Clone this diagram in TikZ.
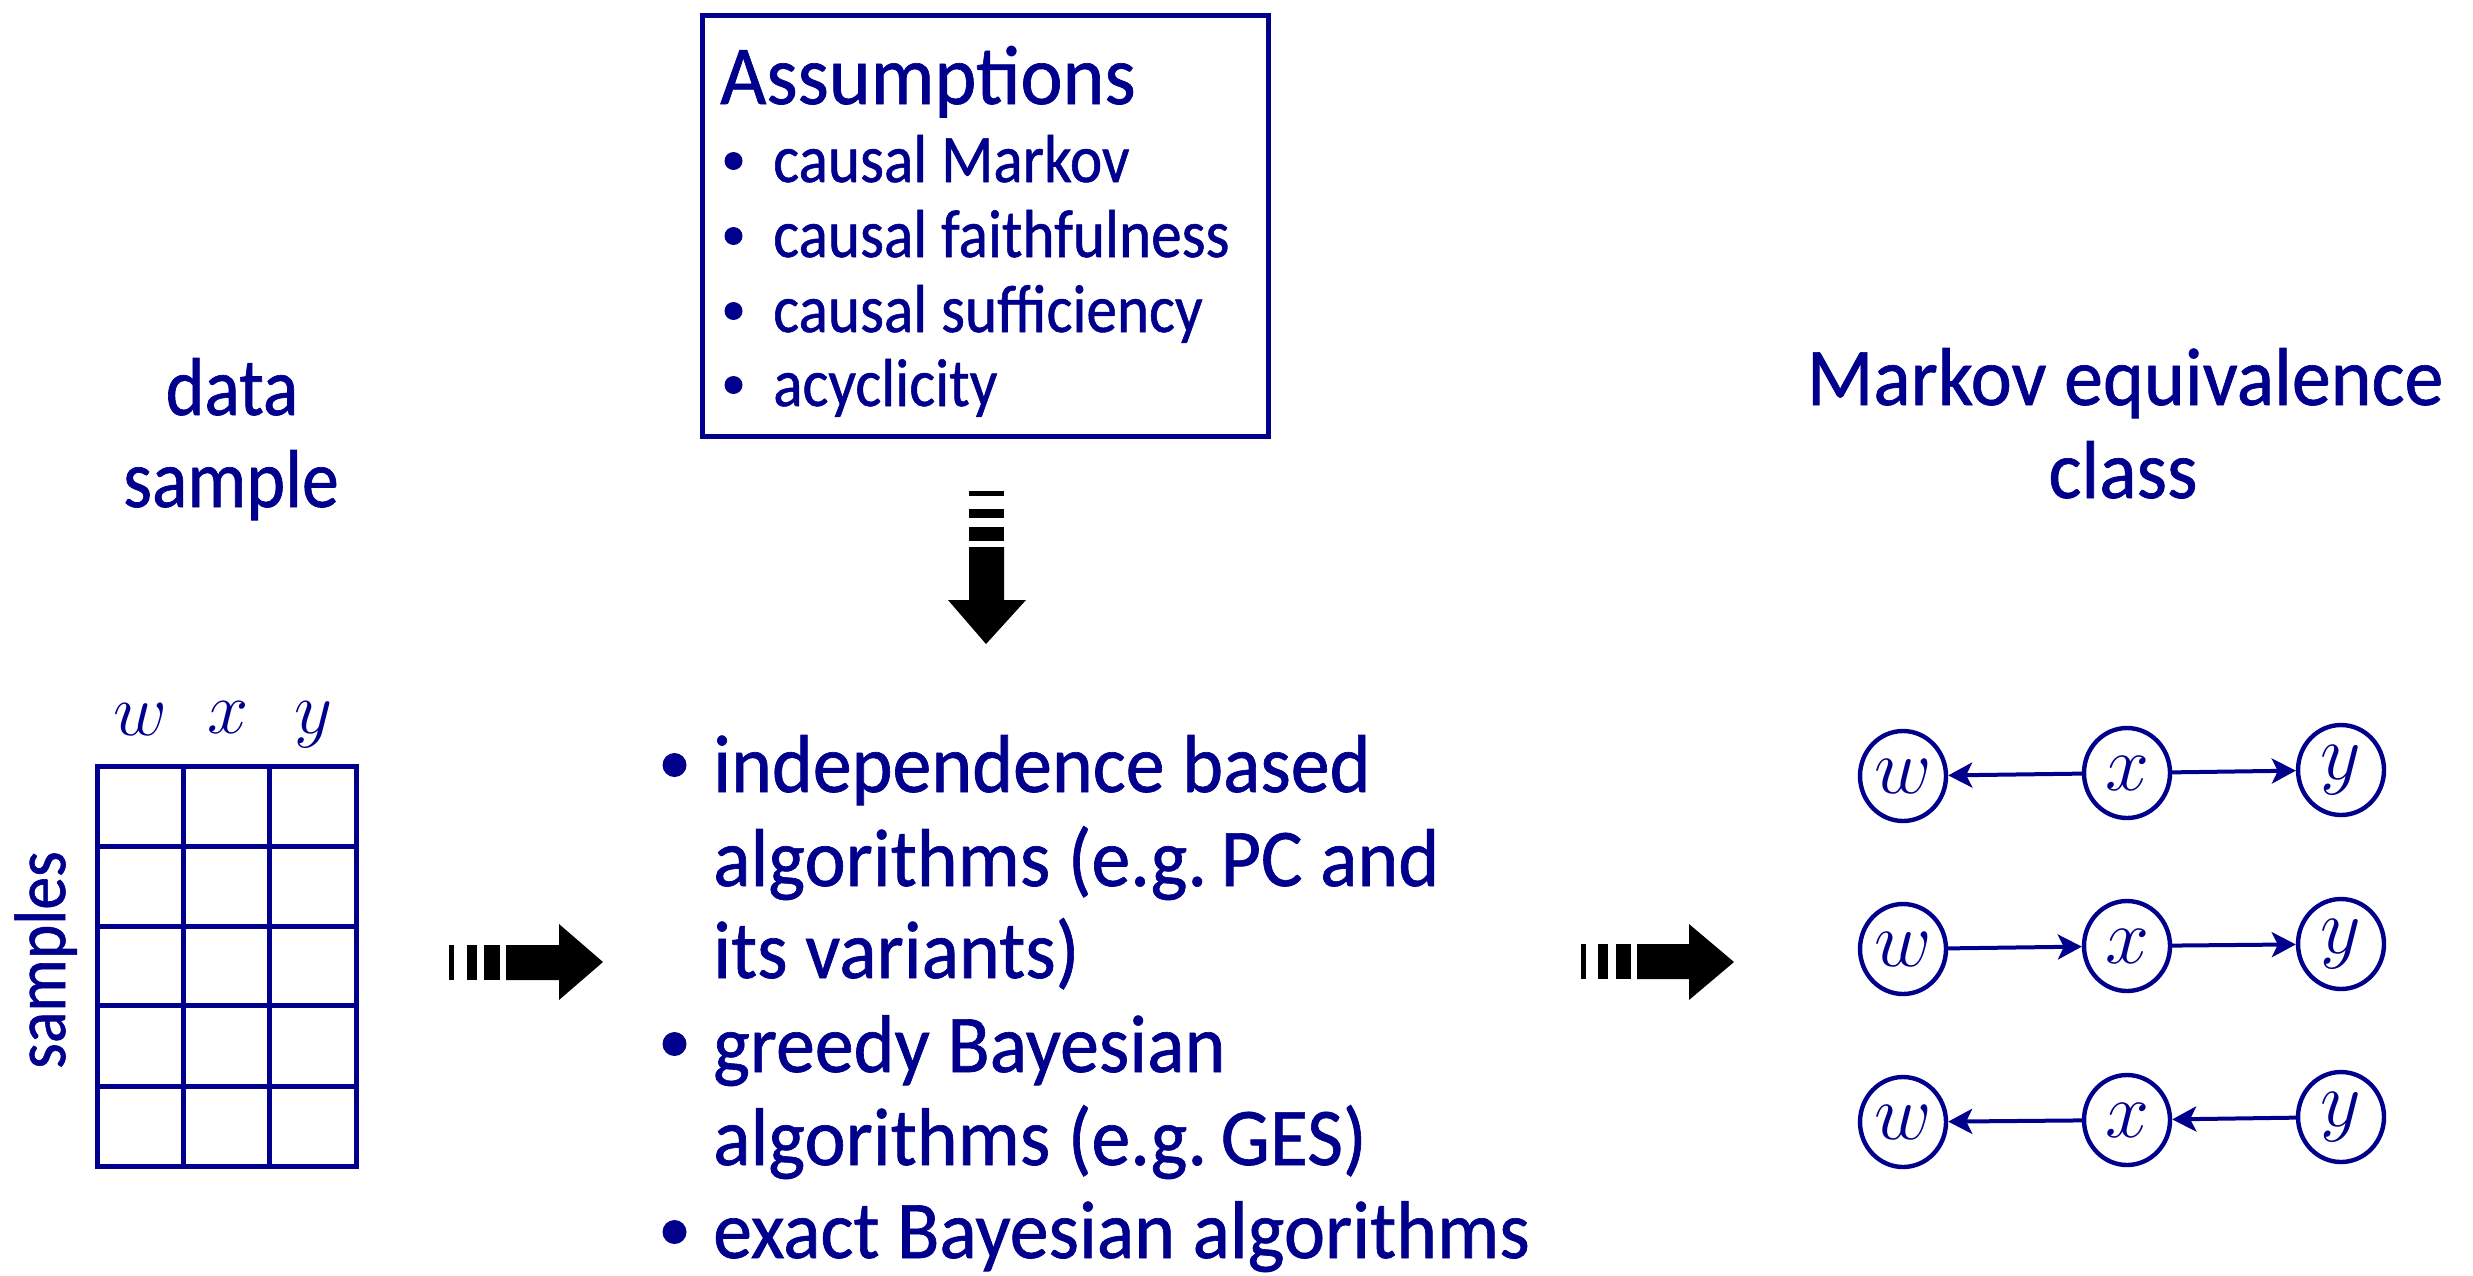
\RequirePackage{fix-cm}
\documentclass[tikz,border=0pt]{standalone}
\usepackage{fontspec}
\setmainfont{Carlito}[FakeStretch=0.95,FakeBold=0.8]
\newfontfamily\narrowfont{Carlito}[FakeStretch=0.90,FakeBold=0.8]
\usetikzlibrary{shapes.geometric,arrows.meta}
\definecolor{navy}{RGB}{0,0,140}
\newcommand{\fsHead}{\fontsize{82}{93}\selectfont}
\newcommand{\fsTitle}{\fontsize{84}{93}\selectfont}
\newcommand{\fsItem}{\narrowfont\fontsize{68}{75}\selectfont}
\newcommand{\fsSide}{\narrowfont\fontsize{73}{80}\selectfont}
\newcommand{\fsData}{\narrowfont\fontsize{82}{93}\selectfont}
\newcommand{\fsMath}{\fontsize{74}{80}\selectfont}
\newcommand{\fsNode}{\fontsize{79}{80}\selectfont}
\begin{document}
\begin{tikzpicture}[x=1pt,y=-1pt,
  txt/.style={inner sep=0pt,text=navy},
  var/.style={ellipse,draw=navy,line width=4.4pt,minimum width=86pt,minimum height=90pt,inner sep=0pt,text=navy,font=\fsNode},
  edge/.style={draw=navy,line width=4pt,-{Stealth[length=24pt,width=25pt,inset=6pt]}},
  gridline/.style={draw=navy,line width=5pt},
]
\useasboundingbox (0,0) rectangle (2473,1275);

% assumptions box
\draw[navy,line width=5pt] (702,15) rectangle (1268,436);
\node[txt,anchor=base west,font=\fsTitle] (atitle) at (720,104) {Assumptions};
\foreach \yy/\lab [count=\i] in {182/causal Markov,257/causal faithfulness,332/causal sufficiency,406/acyclicity}{
  \fill[navy] (733.5,\yy-21) circle (9pt);
  \node[txt,anchor=base west,font=\fsItem] (a\i) at (773,\yy) {\lab};
}

% data sample heading and table
\node[txt,anchor=base,font=\fsData] (hdata) at (232,415) {data};
\node[txt,anchor=base,font=\fsData] (hsample) at (231,507) {sample};
\node[txt,anchor=base,font=\fsMath] (cw) at (140,735) {$w$};
\node[txt,anchor=base,font=\fsMath] (cx) at (228,733) {$x$};
\node[txt,anchor=base,font=\fsMath] (cy) at (313,733) {$y$};
\node[txt,anchor=base,font=\fsSide,rotate=90] (hsamples) at (65,960) {samples};
\draw[gridline] (97,766) rectangle (356,1166);
\foreach \xx in {183.3,269.7} \draw[gridline] (\xx,766) -- (\xx,1166);
\foreach \yy in {846,926,1005,1086} \draw[gridline] (97,\yy) -- (356,\yy);

% block arrows
\fill (449,945) rectangle (454,980);
\fill (467,945) rectangle (477,980);
\fill (484,945) rectangle (500,980);
\fill (506,945) -- (559,945) -- (559,924) -- (603,962) -- (559,1000) -- (559,980) -- (506,980) -- cycle;

\fill (1581,944) rectangle (1586,979);
\fill (1598,944) rectangle (1608,979);
\fill (1616,944) rectangle (1631,979);
\fill (1637,944) -- (1689,944) -- (1689,924) -- (1734,962) -- (1689,1000) -- (1689,979) -- (1637,979) -- cycle;

\fill (969,491) rectangle (1004,496);
\fill (969,509) rectangle (1004,518);
\fill (969,527) rectangle (1004,541);
\fill (969,547) -- (969,600) -- (948,600) -- (986,644) -- (1026,600) -- (1004,600) -- (1004,547) -- cycle;

% algorithm list
\foreach \yy in {765,1044,1232} \fill[navy] (674.5,\yy) circle (12pt);
\node[txt,anchor=base west,font=\fsHead] (l1) at (713,792) {independence based};
\node[txt,anchor=base west,font=\fsHead] (l2) at (713,886) {algorithms (e.g.\,PC and};
\node[txt,anchor=base west,font=\fsHead] (l3) at (713,978) {its variants)};
\node[txt,anchor=base west,font=\fsHead] (l4) at (713,1072) {greedy Bayesian};
\node[txt,anchor=base west,font=\fsHead] (l5) at (713,1165) {algorithms (e.g.\,GES)};
\node[txt,anchor=base west,font=\fsHead] (l6) at (713,1258) {exact Bayesian algorithms};

% Markov equivalence class
\node[txt,anchor=base,font=\fsHead] (hmarkov) at (2125,405) {Markov equivalence};
\node[txt,anchor=base,font=\fsHead] (hclass) at (2123,498) {class};

\node[var] (w1) at (1903,776) {$w$};
\node[var] (x1) at (2127,773) {$x$};
\node[var] (y1) at (2341,770) {$y$};
\node[var] (w2) at (1903,949) {$w$};
\node[var] (x2) at (2127,946) {$x$};
\node[var] (y2) at (2341,944) {$y$};
\node[var] (w3) at (1903,1122) {$w$};
\node[var] (x3) at (2127,1120) {$x$};
\node[var] (y3) at (2341,1117) {$y$};
\draw[edge] (x1) -- (w1);
\draw[edge] (x1) -- (y1);
\draw[edge] (w2) -- (x2);
\draw[edge] (x2) -- (y2);
\draw[edge] (x3) -- (w3);
\draw[edge] (y3) -- (x3);
\end{tikzpicture}
\end{document}
